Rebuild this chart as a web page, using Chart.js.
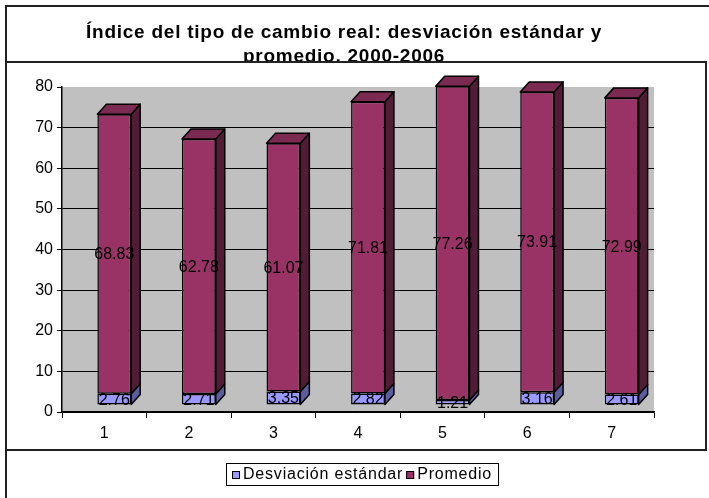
<!DOCTYPE html>
<html>
<head>
<meta charset="utf-8">
<script src="https://cdn.jsdelivr.net/npm/chart.js@4/dist/chart.umd.min.js"></script>
<style>
  html, body { margin: 0; padding: 0; background: #fff; }
  canvas { display: block; }
</style>
</head>
<body>
<canvas id="tcrChart" width="709" height="498"></canvas>
<script>
const periods = ["1", "2", "3", "4", "5", "6", "7"];
const desviacion = [2.76, 2.71, 3.35, 2.82, 1.21, 3.16, 2.61];
const promedio = [68.83, 62.78, 61.07, 71.81, 77.26, 73.91, 72.99];
const titleLines = [
  "Índice del tipo de cambio real: desviación estándar y",
  "promedio, 2000-2006",
];
const yMin = 0;
const yMax = 80;
const yStep = 10;

const FONT = "Arial, 'Liberation Sans', sans-serif";
// front face shift and depth of the 3d columns
const SHIFT_X = 10, SHIFT_Y = -7;
const DEPTH_X = 9, DEPTH_Y = -10;

const faceColors = [
  { front: "#9999ff", side: "#5c5c9e", top: "#7d7dd0" },
  { front: "#993366", side: "#521c37", top: "#7b2a52" },
];

Chart.defaults.font.family = FONT;
Chart.defaults.font.size = 16;
Chart.defaults.color = "#000";

// frame, title and legend around the plot
const framePlugin = {
  id: "frame",
  beforeDraw(chart) {
    const ctx = chart.ctx;
    const area = chart.chartArea;
    ctx.save();
    ctx.fillStyle = "#fff";
    ctx.fillRect(0, 0, chart.width, chart.height);

    ctx.strokeStyle = "#222";
    ctx.lineWidth = 2;
    ctx.strokeRect(6, 6, chart.width + 10, chart.height + 10);

    ctx.fillStyle = "#000";
    ctx.font = "bold 19px " + FONT;
    ctx.letterSpacing = "0.75px";
    ctx.textAlign = "center";
    ctx.textBaseline = "alphabetic";
    ctx.fillText(titleLines[0], 344, 38);
    ctx.fillText(titleLines[1], 344, 62);
    ctx.letterSpacing = "0px";

    // chart box covers the lower part of the second title line
    ctx.fillStyle = "#fff";
    ctx.fillRect(6, 62, 700, 388);
    ctx.strokeRect(6, 62, 700, 388);

    ctx.fillStyle = "#c0c0c0";
    ctx.fillRect(area.left, area.top, area.right - area.left, area.bottom - area.top);
    ctx.restore();
  },
  afterDraw(chart) {
    const ctx = chart.ctx;
    ctx.save();
    ctx.font = "16px " + FONT;
    ctx.letterSpacing = "0.8px";
    const items = chart.data.datasets.map((ds, i) => ({
      text: ds.label,
      color: faceColors[i].front,
      w: ctx.measureText(ds.label).width,
    }));
    const box = 8, gap = 3, pad = 6;
    let inner = 0;
    items.forEach((it, i) => {
      inner += box + gap + it.w + (i < items.length - 1 ? gap : 0);
    });
    const width = inner + pad * 2;
    const left = Math.round(362 - width / 2);
    const top = 463, height = 22;
    ctx.strokeStyle = "#000";
    ctx.lineWidth = 1;
    ctx.strokeRect(left + 0.5, top + 0.5, width, height);

    let x = left + pad;
    const cy = top + height / 2 + 1;
    ctx.textAlign = "left";
    ctx.textBaseline = "middle";
    items.forEach((it) => {
      ctx.fillStyle = it.color;
      ctx.fillRect(x, cy - box / 2, box, box);
      ctx.strokeRect(x + 0.5, cy - box / 2 + 0.5, box - 1, box - 1);
      x += box + gap;
      ctx.fillStyle = "#000";
      ctx.fillText(it.text, x, cy);
      x += it.w + gap;
    });
    ctx.restore();
  },
};

// 3d columns: shift the fronts and add side and top faces
const columnPlugin = {
  id: "columns3d",
  beforeDatasetsDraw(chart) {
    chart.ctx.save();
    chart.ctx.translate(SHIFT_X, SHIFT_Y);
  },
  afterDatasetsDraw(chart) {
    const ctx = chart.ctx;
    const last = chart.data.datasets.length - 1;
    ctx.lineWidth = 1.5;
    ctx.strokeStyle = "#000";
    ctx.lineJoin = "round";
    chart.data.datasets.forEach((ds, i) => {
      chart.getDatasetMeta(i).data.forEach((bar) => {
        const p = bar.getProps(["x", "y", "base", "width"], true);
        const l = p.x - p.width / 2, r = p.x + p.width / 2;
        const t = Math.min(p.y, p.base), b = Math.max(p.y, p.base);
        ctx.fillStyle = faceColors[i].side;
        ctx.beginPath();
        ctx.moveTo(r, t);
        ctx.lineTo(r + DEPTH_X, t + DEPTH_Y);
        ctx.lineTo(r + DEPTH_X, b + DEPTH_Y);
        ctx.lineTo(r, b);
        ctx.closePath();
        ctx.fill();
        ctx.stroke();
        if (i === last) {
          ctx.fillStyle = faceColors[i].top;
          ctx.beginPath();
          ctx.moveTo(l, t);
          ctx.lineTo(l + DEPTH_X, t + DEPTH_Y);
          ctx.lineTo(r + DEPTH_X, t + DEPTH_Y);
          ctx.lineTo(r, t);
          ctx.closePath();
          ctx.fill();
          ctx.stroke();
        }
      });
    });
    ctx.restore();
  },
  afterDraw(chart) {
    const ctx = chart.ctx;
    ctx.save();
    ctx.fillStyle = "#000";
    ctx.font = "16px " + FONT;
    ctx.textAlign = "center";
    ctx.textBaseline = "middle";
    chart.data.datasets.forEach((ds, i) => {
      chart.getDatasetMeta(i).data.forEach((bar, j) => {
        const p = bar.getProps(["x", "y", "base"], true);
        ctx.fillText(ds.data[j].toFixed(2), p.x + SHIFT_X, (p.y + p.base) / 2 + SHIFT_Y + 1);
      });
    });
    ctx.restore();
  },
};

const ctx = document.getElementById("tcrChart").getContext("2d");
const tcrChart = new Chart(ctx, {
  type: "bar",
  data: {
    labels: periods,
    datasets: [
      {
        label: "Desviación estándar",
        data: desviacion,
        backgroundColor: faceColors[0].front,
        borderColor: "#000",
        borderWidth: 1.5,
        borderSkipped: false,
        clip: false,
      },
      {
        label: "Promedio",
        data: promedio,
        backgroundColor: faceColors[1].front,
        borderColor: "#000",
        borderWidth: 1.5,
        borderSkipped: false,
        clip: false,
      },
    ],
  },
  options: {
    responsive: false,
    devicePixelRatio: 1,
    animation: false,
    layout: {
      padding: { top: 87, left: 6, right: 55, bottom: 56 },
    },
    datasets: {
      bar: { categoryPercentage: 1, barPercentage: 0.4 },
    },
    plugins: {
      legend: { display: false },
      title: { display: false },
      tooltip: { enabled: false },
    },
    scales: {
      x: {
        stacked: true,
        afterFit(scale) { scale.height = 30; },
        grid: {
          offset: true,
          drawOnChartArea: false,
          color: "#000",
          tickLength: 6,
        },
        border: { display: true, color: "#000", width: 1.5 },
        ticks: { padding: 6, font: { size: 16 }, color: "#000" },
      },
      y: {
        stacked: true,
        min: yMin,
        max: yMax,
        afterFit(scale) { scale.width = 56; },
        grid: {
          color: (c) => (c.tick && c.tick.value === yMax ? "rgba(0,0,0,0)" : "#000"),
          tickColor: "#000",
          tickLength: 5,
        },
        border: { display: true, color: "#000", width: 1.5 },
        ticks: { stepSize: yStep, padding: 4, font: { size: 16 }, color: "#000" },
      },
    },
  },
  plugins: [framePlugin, columnPlugin],
});
</script>
</body>
</html>
